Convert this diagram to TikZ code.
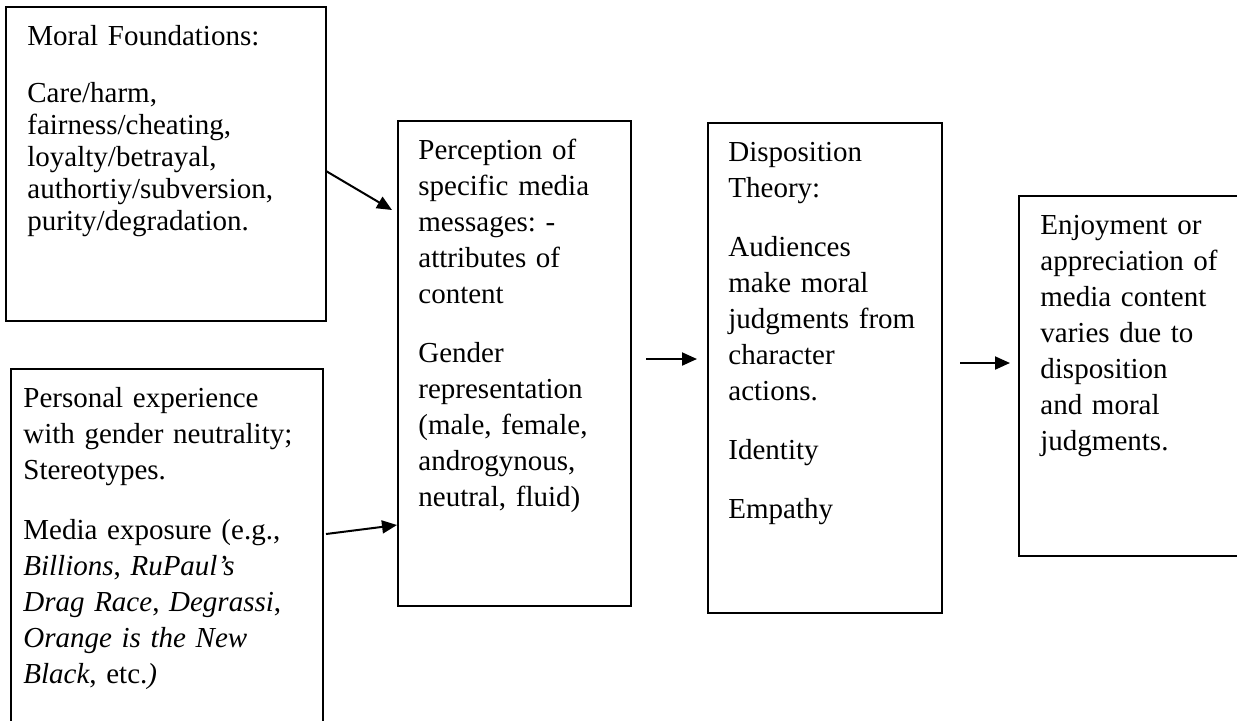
\documentclass[tikz,border=0pt]{standalone}
\usepackage{fontspec}
\setmainfont{Liberation Serif}
\usetikzlibrary{arrows.meta,fit}
\frenchspacing
\begin{document}
\begin{tikzpicture}[x=0.5pt,y=-0.5pt,
  boxshape/.style={draw=black,line width=1pt,inner sep=0pt,rectangle},
  thinbox/.style={draw=black,line width=0.6pt,inner sep=0pt,rectangle},
  txt/.style={anchor=base west,inner sep=0pt,align=left,text width=150pt,
    font=\fontsize{14.5}{18}\selectfont\frenchspacing},
  txtb/.style={txt,font=\fontsize{14.5}{16}\selectfont\frenchspacing},
  arr/.style={line width=1pt,-{Triangle[length=7.5pt,width=6.5pt]}}]
\useasboundingbox (0,0) rectangle (1237,720);
\clip (0,0) rectangle (1237,720);
\fill[white] (0,0) rectangle (1237,720);
% boxes
\node[boxshape,fit={(6,7) (326,321)}] (b1) {};
\node[thinbox,fit={(11,369) (323,760)}] (b2) {};
\node[boxshape,fit={(398,121) (631,606)}] (b3) {};
\node[boxshape,fit={(708,123) (942,613)}] (b4) {};
\node[boxshape,fit={(1019,196) (1260,556)}] (b5) {};
% texts
\node[txtb] (t1) at (27,45) {Moral Foundations:\\[12.5pt]
Care/harm,\\ fairness/cheating,\\ loyalty/betrayal,\\ authortiy/subversion,\\ purity/degradation.};
\node[txt] (t2) at (23,407) {Personal experience\\ with gender neutrality;\\ Stereotypes.\\[12pt]
Media exposure (e.g.,\\ \textit{Billions}, \textit{RuPaul’s}\\ \textit{Drag Race}, \textit{Degrassi},\\ \textit{Orange is the New}\\ \textit{Black}, etc.\textit{)}};
\node[txt] (t3) at (418,159) {Perception of\\ specific media\\ messages: -\\ attributes of\\ content\\[11.5pt]
Gender\\ representation\\ (male, female,\\ androgynous,\\ neutral, fluid)};
\node[txt] (t4) at (728,161) {Disposition\\ Theory:\\[11.5pt]
Audiences\\ make moral\\ judgments from\\ character\\ actions.\\[11.5pt]
Identity\\[11.5pt]
Empathy};
\node[txt] (t5) at (1040,234) {Enjoyment or\\ appreciation of\\ media content\\ varies due to\\ disposition\\ and moral\\ judgments.};
% arrow ends
\coordinate (a1s) at (326,171); \coordinate (a1e) at (392,210);
\coordinate (a2s) at (326,534); \coordinate (a2e) at (397,525);
\coordinate (a3s) at (646,359); \coordinate (a3e) at (697,359);
\coordinate (a4s) at (960,363); \coordinate (a4e) at (1010,363);
\draw[arr] (a1s) -- (a1e);
\draw[arr] (a2s) -- (a2e);
\draw[arr] (a3s) -- (a3e);
\draw[arr] (a4s) -- (a4e);
\end{tikzpicture}
\end{document}
